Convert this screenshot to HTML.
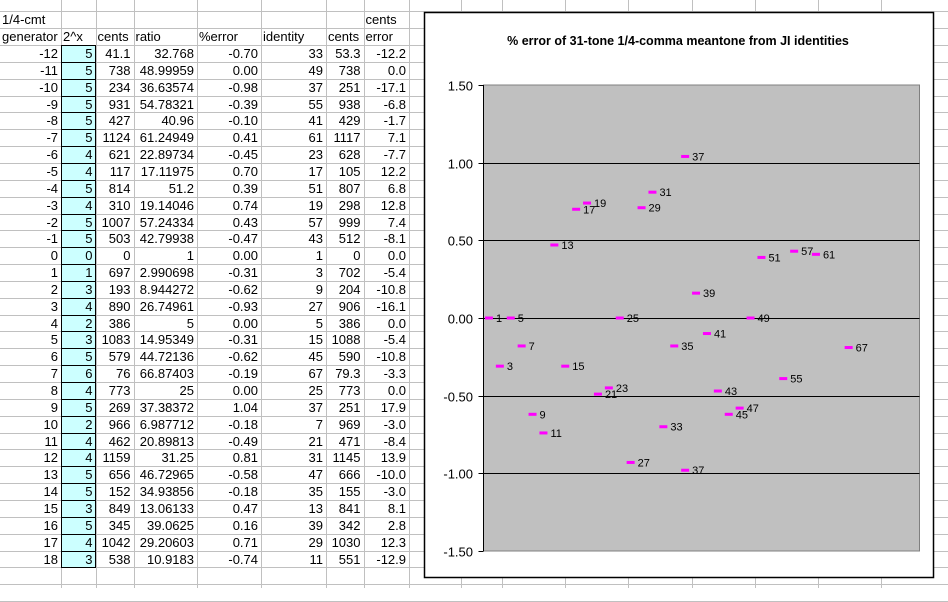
<!DOCTYPE html>
<html><head><meta charset="utf-8"><style>
body{margin:0;width:948px;height:588px;overflow:hidden;background:#fff;position:relative;font-family:"Liberation Sans",Arial,sans-serif;}
.c{position:absolute;font-size:13px;line-height:17px;white-space:nowrap;color:#000}
.hl{position:absolute;height:1px;background:#c0c0c0;left:0;width:948px}
.vl{position:absolute;width:1px;background:#c0c0c0;top:0;height:588px}
</style></head><body>
<div id="sheet"></div>
<svg id="chart" style="position:absolute;left:0;top:0" width="948" height="588"></svg>
<script>
const gens=[-12,-11,-10,-9,-8,-7,-6,-5,-4,-3,-2,-1,0,1,2,3,4,5,6,7,8,9,10,11,12,13,14,15,16,17,18];
const pow2=[5,5,5,5,5,5,4,4,5,4,5,5,0,1,3,4,2,3,5,6,4,5,2,4,4,5,5,3,5,4,3];
const cents1=["41.1","738","234","931","427","1124","621","117","814","310","1007","503","0","697","193","890","386","1083","579","76","773","269","966","462","1159","656","152","849","345","1042","538"];
const ratios=["32.768","48.99959","36.63574","54.78321","40.96","61.24949","22.89734","17.11975","51.2","19.14046","57.24334","42.79938","1","2.990698","8.944272","26.74961","5","14.95349","44.72136","66.87403","25","37.38372","6.987712","20.89813","31.25","46.72965","34.93856","13.06133","39.0625","29.20603","10.9183"];
const pctErr=[-0.70,0.00,-0.98,-0.39,-0.10,0.41,-0.45,0.70,0.39,0.74,0.43,-0.47,0.00,-0.31,-0.62,-0.93,0.00,-0.31,-0.62,-0.19,0.00,1.04,-0.18,-0.49,0.81,-0.58,-0.18,0.47,0.16,-0.74];
const identity=[33,49,37,55,41,61,23,17,51,19,57,43,1,3,9,27,5,15,45,67,25,37,7,21,31,47,35,13,39,11];
const cents2=["53.3","738","251","938","429","1117","628","105","807","298","999","512","0","702","204","906","386","1088","590","79.3","773","251","969","471","1145","666","155","841","342","1030","551"];
const centsErr=["-12.2","0.0","-17.1","-6.8","-1.7","7.1","-7.7","12.2","6.8","12.8","7.4","-8.1","0.0","-5.4","-10.8","-16.1","0.0","-5.4","-10.8","-3.3","0.0","17.9","-3.0","-8.4","13.9","-10.0","-3.0","8.1","2.8","12.3","-12.9"];
// identity 37 at gen 9 has 1.04; gen 18 is 11
pctErr.splice(0,pctErr.length,-0.70,0.00,-0.98,-0.39,-0.10,0.41,-0.45,0.70,0.39,0.74,0.43,-0.47,0.00,-0.31,-0.62,-0.93,0.00,-0.31,-0.62,-0.19,0.00,1.04,-0.18,-0.49,0.81,-0.58,-0.18,0.47,0.16,0.71,-0.74);
identity.splice(0,identity.length,33,49,37,55,41,61,23,17,51,19,57,43,1,3,9,27,5,15,45,67,25,37,7,21,31,47,35,13,39,29,11);
const yTicks=[1.5,1.0,0.5,0,-0.5,-1.0,-1.5];

const sheet=document.getElementById('sheet');
const colX=[0,61,95.5,133.5,197,261,326,363.5,409,461,502,565,628,692,755,818,881,948];
const rowTop=45,rh=16.85;
for(let k=-3;k<=33;k++){const d=document.createElement('div');d.className='hl';d.style.top=(rowTop+k*rh)+'px';

sheet.appendChild(d);}
colX.slice(1,-1).forEach(x=>{const d=document.createElement('div');d.className='vl';d.style.left=x+'px';

sheet.appendChild(d);});
function cell(text,col,row,align,name){const d=document.createElement('div');d.className='c';
const l=colX[col],r=colX[col+1];d.style.left=(l+2)+'px';d.style.width=(r-l-5)+'px';d.style.textAlign=align;
d.style.top=(rowTop+row*rh)+'px';d.textContent=text;

sheet.appendChild(d);}
// cyan column
const cy=document.createElement('div');cy.style.cssText='position:absolute;left:61px;top:'+rowTop+'px;width:33px;height:'+(31*rh-1)+'px;background:#ccffff;border:1px solid #000';

sheet.appendChild(cy);
for(let i=0;i<31;i++){const r=rowTop+(i+1)*rh;const d=document.createElement('div');d.style.cssText='position:absolute;left:61px;width:35px;height:1px;background:#000;top:'+r+'px';

sheet.appendChild(d);}
cell('1/4-cmt',0,-2,'left','header-label');cell('cents',7,-2,'left','header-cents');
['generator','2^x','cents','ratio','%error','identity','cents','error'].forEach((h,i)=>cell(h,i,-1,'left','header-'+i));
for(let i=0;i<31;i++){
 cell(String(gens[i]),0,i,'right','generator-cell');
 cell(String(pow2[i]),1,i,'right','power-cell');
 cell(cents1[i],2,i,'right','cents-cell');
 cell(ratios[i],3,i,'right','ratio-cell');
 cell(pctErr[i].toFixed(2),4,i,'right','pct-error-cell');
 cell(String(identity[i]),5,i,'right','identity-cell');
 cell(cents2[i],6,i,'right','identity-cents-cell');
 cell(centsErr[i],7,i,'right','cents-error-cell');
}
// chart
const svg=document.getElementById('chart');const NS='http://www.w3.org/2000/svg';
function el(t,a,name){const e=document.createElementNS(NS,t);for(const k in a)e.setAttribute(k,a[k]);

svg.appendChild(e);return e;}
const PL=483.5,PR=919.5,PT=85,PB=551,XMAX=80;
const xs=v=>PL+v/XMAX*(PR-PL);
const ys=v=>PT+(1.5-v)/3*(PB-PT);
el('rect',{x:424.5,y:12.5,width:509,height:565,fill:'#fff',stroke:'#000','stroke-width':1.5},'chart-frame');
const t=el('text',{x:678,y:45,'text-anchor':'middle','font-size':'12.5','font-weight':'bold','font-family':'Liberation Sans, Arial, sans-serif'},'chart-title');
t.textContent='% error of 31-tone 1/4-comma meantone from JI identities';
el('rect',{x:PL,y:PT,width:PR-PL,height:PB-PT,fill:'#c0c0c0',stroke:'#808080'},'plot-area');
el('line',{x1:PL,y1:PT,x2:PL,y2:PB,stroke:'#000'},'y-axis');
yTicks.forEach(v=>{const y=Math.round(ys(v))+0.5;
 if(v<1.5&&v>-1.5)el('line',{x1:PL,y1:y,x2:PR,y2:y,stroke:'#000'},'gridline');
 el('line',{x1:PL-5,y1:y,x2:PL,y2:y,stroke:'#000'},'y-tick');
 const tx=el('text',{x:473,y:y+5,'text-anchor':'end','font-size':'13','font-family':'Liberation Sans, Arial, sans-serif'},'y-tick-label');
 tx.textContent=v.toFixed(2);});
for(let i=0;i<identity.length;i++){const x=xs(identity[i]),y=ys(pctErr[i]);
 el('rect',{x:x-4,y:y-1.5,width:8,height:3,fill:'#ff00ff'},'data-point');
 const l=el('text',{x:x+7,y:y+4,'font-size':'11','font-family':'Liberation Sans, Arial, sans-serif'},'point-label');
 l.textContent=String(identity[i]);}
</script>
</body></html>
